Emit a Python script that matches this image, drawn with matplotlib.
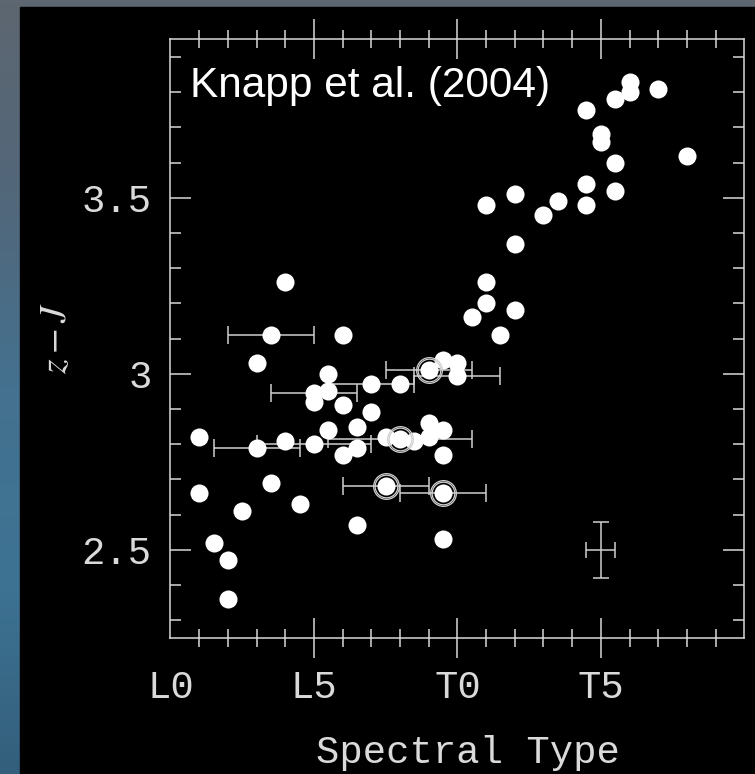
import numpy as np
import matplotlib.pyplot as plt
from matplotlib.ticker import MultipleLocator, FixedLocator, FixedFormatter
from matplotlib.colors import LinearSegmentedColormap
from matplotlib.patches import Rectangle

plt.rcParams['mathtext.fontset'] = 'stix'

# spectral type index: L0 = 0, L5 = 5, T0 = 10, T5 = 15
spt = [1.0, 1.0, 1.5, 2.0, 2.0, 2.5, 3.0, 3.5, 4.0, 4.0, 4.5,
       5.0, 5.5, 5.5, 5.5, 6.0, 6.0, 6.0, 6.5, 6.5, 6.5, 7.0, 7.5,
       8.0, 8.5, 9.0, 9.0, 9.5, 9.5, 9.5, 9.5, 10.0,
       10.5, 11.0, 11.0, 11.0, 11.5, 12.0, 12.0, 12.0, 13.0, 13.5,
       14.5, 14.5, 14.5, 15.0, 15.0, 15.5, 15.5, 15.5, 16.0, 16.0,
       17.0, 18.0]
zj = [2.82, 2.66, 2.52, 2.47, 2.36, 2.61, 3.03, 2.69, 3.26, 2.81, 2.63,
      2.92, 3.00, 2.95, 2.84, 3.11, 2.91, 2.77, 2.85, 2.79, 2.57, 2.89, 2.82,
      2.97, 2.81, 2.86, 2.82, 3.04, 2.84, 2.77, 2.53, 3.03,
      3.16, 3.48, 3.26, 3.20, 3.11, 3.51, 3.37, 3.18, 3.45, 3.49,
      3.75, 3.54, 3.48, 3.68, 3.66, 3.78, 3.60, 3.52, 3.83, 3.80,
      3.81, 3.62]

# objects with uncertain spectral types
err_spt = [3.5, 5.0, 7.0, 9.0, 10.0, 3.0, 5.0, 8.0, 7.5, 9.5]
err_zj = [3.11, 2.945, 2.97, 3.01, 2.995, 2.79, 2.80, 2.815, 2.68, 2.66]
err_dspt = [1.5, 1.5, 1.5, 1.5, 1.5, 1.5, 2.0, 2.5, 1.5, 1.5]
ringed = [False, False, False, True, False, False, False, True, True, True]

# typical uncertainty
typ_spt, typ_zj, typ_dspt, typ_dzj = 15.0, 2.5, 0.5, 0.08

xtick_pos = [0, 5, 10, 15, 20]
xtick_lab = ['L0', 'L5', 'T0', 'T5', '']
ytick_pos = [2.5, 3.0, 3.5]
ytick_lab = ['2.5', '3', '3.5']

fg = '#dadada'
mono = 'Liberation Mono'

fig = plt.figure(figsize=(7.55, 7.74), dpi=100)

# backdrop behind the black panel
bg = fig.add_axes([0, 0, 1, 1])
bg.axis('off')
cmap = LinearSegmentedColormap.from_list(
    'sky', ['#5d6671', '#52677a', '#44718f', '#3e7393', '#335f7c'])
grad = np.linspace(0, 1, 256).reshape(-1, 1)
bg.imshow(grad, cmap=cmap, aspect='auto', extent=[0, 1, 0, 1])
bg.add_patch(Rectangle((0.0265, 0), 1, 0.991, color='black',
                       transform=bg.transAxes))
bg.set_xlim(0, 1)
bg.set_ylim(0, 1)

ax = fig.add_axes([0.2258, 0.1761, 0.7600, 0.7729])
ax.set_facecolor('black')

ax.errorbar(err_spt, err_zj, xerr=err_dspt, fmt='none', ecolor='#cfcfcf',
            elinewidth=1.1, capsize=6.5, capthick=1.1, zorder=2)
ax.errorbar([typ_spt], [typ_zj], xerr=[typ_dspt], yerr=[typ_dzj], fmt='none',
            ecolor='#cfcfcf', elinewidth=1.1, capsize=6, capthick=1.1, zorder=2)

ax.plot(spt, zj, 'o', color='white', ms=13, mec='none', zorder=3)
ax.plot(err_spt, err_zj, 'o', color='white', ms=13, mec='none', zorder=3)

ring_x = [x for x, r in zip(err_spt, ringed) if r]
ring_y = [y for y, r in zip(err_zj, ringed) if r]
ax.plot(ring_x, ring_y, 'o', mfc='none', mec='#d0d0d0', mew=0.9, ms=18.5, zorder=4)
ax.plot(ring_x, ring_y, 'o', mfc='none', mec='#d0d0d0', mew=0.9, ms=16.3, zorder=4)

ax.set_xlim(0, 20)
ax.set_ylim(2.25, 3.95)

ax.xaxis.set_major_locator(FixedLocator(xtick_pos))
ax.xaxis.set_major_formatter(FixedFormatter(xtick_lab))
ax.xaxis.set_minor_locator(MultipleLocator(1))
ax.yaxis.set_major_locator(FixedLocator(ytick_pos))
ax.yaxis.set_major_formatter(FixedFormatter(ytick_lab))
ax.yaxis.set_minor_locator(MultipleLocator(0.1))

ax.tick_params(axis='x', which='major', direction='inout', length=29, width=1.1,
               top=True, bottom=True, color='#d8d8d8', pad=9,
               labelsize=28, labelcolor=fg)
ax.tick_params(axis='x', which='minor', direction='inout', length=13.5, width=1.1,
               top=True, bottom=True, color='#d8d8d8')
ax.tick_params(axis='y', which='major', direction='in', length=15, width=1.1,
               left=True, right=True, color='#d8d8d8', pad=13.5,
               labelsize=28, labelcolor=fg)
ax.tick_params(axis='y', which='minor', direction='in', length=7.7, width=1.1,
               left=True, right=True, color='#d8d8d8')
for lab in ax.get_xticklabels() + ax.get_yticklabels():
    lab.set_family(mono)

# no tick marks where the end ticks fall on the side spines
for t in (ax.xaxis.get_major_ticks()[0], ax.xaxis.get_major_ticks()[-1]):
    t.tick1line.set_visible(False)
    t.tick2line.set_visible(False)

for sp in ax.spines.values():
    sp.set_color('#d8d8d8')
    sp.set_linewidth(1.1)

ax.text(0.5185, -0.192, 'Spectral Type', transform=ax.transAxes,
        ha='center', va='center', fontsize=28, family=mono, color=fg)
ax.set_ylabel(r'$z-J$', fontsize=27, color=fg)
ax.yaxis.set_label_coords(-0.168, 0.5)

ax.text(0.034, 0.922, 'Knapp et al. (2004)', transform=ax.transAxes,
        ha='left', va='center', fontsize=30.5, family='Liberation Sans',
        color='white')

fig.savefig('out.png', dpi=100, facecolor=fig.get_facecolor())
